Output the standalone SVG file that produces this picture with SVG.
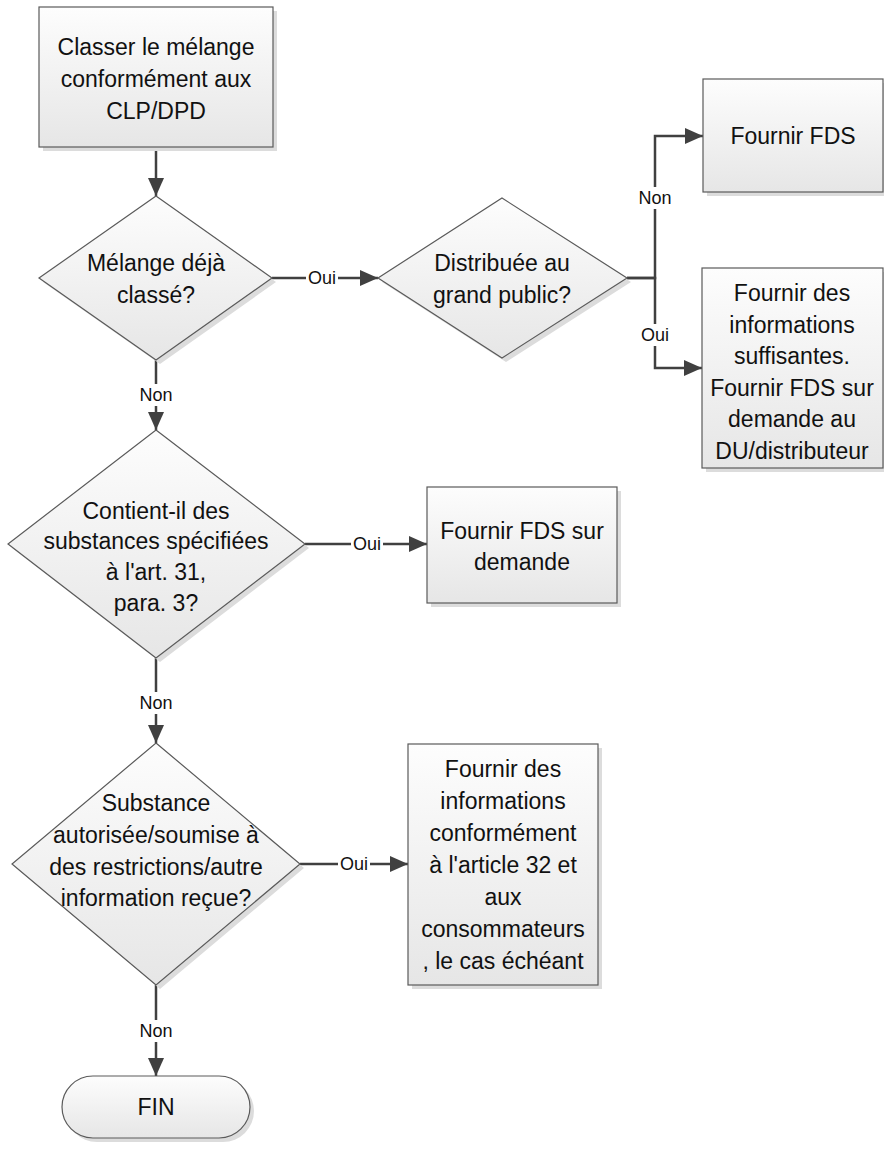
<svg xmlns="http://www.w3.org/2000/svg" width="884" height="1149" viewBox="0 0 884 1149">
<style>
.shape{fill:url(#g);stroke:#5a5a5a;stroke-width:1.2}
.sh{fill:#dcdcdc}
.t{font-family:"Liberation Sans",Arial,sans-serif;font-size:23px;fill:#111;text-anchor:middle}
.lbl{font-family:"Liberation Sans",Arial,sans-serif;font-size:18px;fill:#111;text-anchor:middle}
.bg{fill:#fff}
.c{fill:none;stroke:#404040;stroke-width:2.5}
</style>
<defs>
<linearGradient id="g" x1="0" y1="0" x2="0" y2="1">
<stop offset="0" stop-color="#fdfdfd"/>
<stop offset="1" stop-color="#e6e6e6"/>
</linearGradient>
<marker id="ah" markerUnits="userSpaceOnUse" markerWidth="18" markerHeight="16" refX="18" refY="8" orient="auto">
<path d="M0,0 L18,8 L0,16 z" fill="#404040"/>
</marker>
</defs>
<rect width="884" height="1149" fill="#fff"/>

<g id="connectors">
<path class="c" d="M156,147 V196" marker-end="url(#ah)"/>
<path class="c" d="M272,278 H378" marker-end="url(#ah)"/>
<path class="c" d="M627,278 H655 V136 H703" marker-end="url(#ah)"/>
<path class="c" d="M627,278 H655 V368 H702" marker-end="url(#ah)"/>
<path class="c" d="M156,360 V430" marker-end="url(#ah)"/>
<path class="c" d="M305,544 H427" marker-end="url(#ah)"/>
<path class="c" d="M156,658 V743" marker-end="url(#ah)"/>
<path class="c" d="M300,864 H408" marker-end="url(#ah)"/>
<path class="c" d="M156,985 V1076" marker-end="url(#ah)"/>
<rect class="bg" x="306" y="268" width="32" height="20"/>
<text class="lbl" x="322" y="284">Oui</text>
<rect class="bg" x="637" y="187" width="36" height="22"/>
<text class="lbl" x="655" y="204">Non</text>
<rect class="bg" x="639" y="324" width="32" height="22"/>
<text class="lbl" x="655" y="341">Oui</text>
<rect class="bg" x="138" y="384" width="36" height="22"/>
<text class="lbl" x="156" y="401">Non</text>
<rect class="bg" x="351" y="534" width="32" height="20"/>
<text class="lbl" x="367" y="550">Oui</text>
<rect class="bg" x="138" y="692" width="36" height="22"/>
<text class="lbl" x="156" y="709">Non</text>
<rect class="bg" x="338" y="854" width="32" height="20"/>
<text class="lbl" x="354" y="870">Oui</text>
<rect class="bg" x="138" y="1020" width="36" height="22"/>
<text class="lbl" x="156" y="1037">Non</text>
</g>

<g id="n1">
<rect class="sh" x="43" y="11" width="234" height="140"/>
<rect class="shape" x="39" y="7" width="234" height="140"/>
<text class="t" x="156" y="55">Classer le mélange</text>
<text class="t" x="156" y="87">conformément aux</text>
<text class="t" x="156" y="119">CLP/DPD</text>
</g>

<g id="d1">
<polygon class="sh" points="160,200 276,282 160,364 43,282"/>
<polygon class="shape" points="156,196 272,278 156,360 39,278"/>
<text class="t" x="156" y="271">Mélange déjà</text>
<text class="t" x="156" y="303">classé?</text>
</g>

<g id="d2">
<polygon class="sh" points="506,202 631,282 506,362 382,282"/>
<polygon class="shape" points="502,198 627,278 502,358 378,278"/>
<text class="t" x="502" y="271">Distribuée au</text>
<text class="t" x="502" y="303">grand public?</text>
</g>

<g id="n2">
<rect class="sh" x="707" y="83" width="180" height="113"/>
<rect class="shape" x="703" y="79" width="180" height="113"/>
<text class="t" x="793" y="144">Fournir FDS</text>
</g>

<g id="n3">
<rect class="sh" x="706" y="272" width="181" height="200"/>
<rect class="shape" x="702" y="268" width="181" height="200"/>
<text class="t" x="792" y="301">Fournir des</text>
<text class="t" x="792" y="333">informations</text>
<text class="t" x="792" y="364">suffisantes.</text>
<text class="t" x="792" y="396">Fournir FDS sur</text>
<text class="t" x="792" y="427">demande au</text>
<text class="t" x="792" y="459">DU/distributeur</text>
</g>

<g id="d3">
<polygon class="sh" points="160,434 309,548 160,662 12,548"/>
<polygon class="shape" points="156,430 305,544 156,658 8,544"/>
<text class="t" x="156" y="519">Contient-il des</text>
<text class="t" x="156" y="549">substances spécifiées</text>
<text class="t" x="156" y="580">à l'art. 31,</text>
<text class="t" x="156" y="611">para. 3?</text>
</g>

<g id="n4">
<rect class="sh" x="431" y="491" width="190" height="116"/>
<rect class="shape" x="427" y="487" width="190" height="116"/>
<text class="t" x="522" y="539">Fournir FDS sur</text>
<text class="t" x="522" y="570">demande</text>
</g>

<g id="d4">
<polygon class="sh" points="160,747 304,868 160,989 16,868"/>
<polygon class="shape" points="156,743 300,864 156,985 12,864"/>
<text class="t" x="156" y="811">Substance</text>
<text class="t" x="156" y="843">autorisée/soumise à</text>
<text class="t" x="156" y="875">des restrictions/autre</text>
<text class="t" x="156" y="906">information reçue?</text>
</g>

<g id="n5">
<rect class="sh" x="412" y="748" width="190" height="241"/>
<rect class="shape" x="408" y="744" width="190" height="241"/>
<text class="t" x="503" y="777">Fournir des</text>
<text class="t" x="503" y="809">informations</text>
<text class="t" x="503" y="841">conformément</text>
<text class="t" x="503" y="873">à l'article 32 et</text>
<text class="t" x="503" y="905">aux</text>
<text class="t" x="503" y="937">consommateurs</text>
<text class="t" x="503" y="969">, le cas échéant</text>
</g>

<g id="fin">
<rect class="sh" x="66" y="1080" width="188" height="62" rx="31"/>
<rect class="shape" x="62" y="1076" width="188" height="62" rx="31"/>
<text class="t" x="156" y="1115">FIN</text>
</g>
</svg>
